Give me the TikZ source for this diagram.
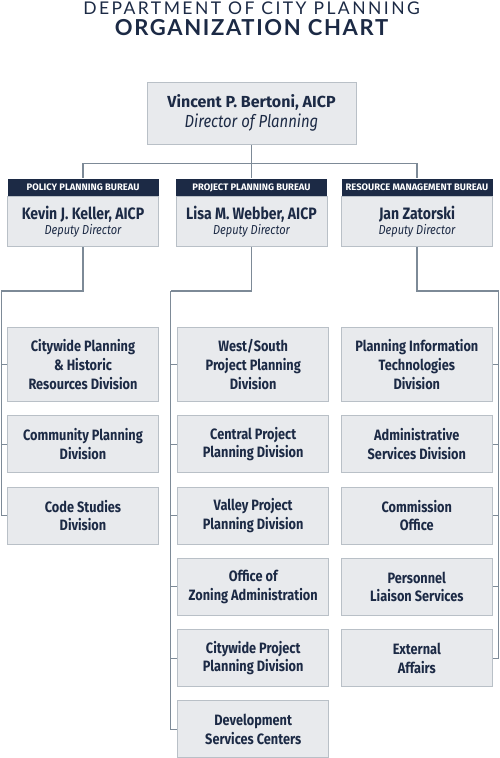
\documentclass[tikz,border=0pt]{standalone}
\usepackage{fontspec}
\setmainfont{Fira Sans}[FakeStretch=0.85]
\newfontfamily\widefont{Fira Sans}
\newfontfamily\titlefont{Lato}[LetterSpace=14]
\newfontfamily\headfont{Lato}[LetterSpace=7.5]
\usetikzlibrary{positioning}
\definecolor{navy}{HTML}{1C2A45}
\definecolor{boxfill}{HTML}{E8EAED}
\definecolor{boxline}{HTML}{B9C0C7}
\definecolor{linkgray}{HTML}{7D8A97}
\tikzstyle{link} = [line width=1.2pt, draw=linkgray]
\tikzstyle{director} = [rectangle, draw=boxline, fill=boxfill, line width=1pt, minimum width=209pt, minimum height=62pt, inner sep=0pt, align=center, text=navy]
\tikzstyle{bureauhead} = [rectangle, fill=navy, minimum width=151pt, minimum height=18pt, inner sep=0pt, text=white, font=\widefont\fontsize{9.4}{11}\selectfont\bfseries]
\tikzstyle{bureau} = [rectangle, draw=boxline, fill=boxfill, line width=1pt, minimum width=151pt, minimum height=50pt, inner sep=0pt, align=center, text=navy]
\tikzstyle{division} = [rectangle, draw=boxline, fill=boxfill, line width=1pt, minimum width=151pt, minimum height=57pt, inner sep=0pt, align=center, text=navy, font=\fontsize{15}{18.7}\selectfont\bfseries]
\tikzstyle{tall} = [minimum height=74pt]
\newcommand\deputy{\\[1.5pt]{\fontsize{13}{14}\selectfont\mdseries\itshape Deputy Director}}

\begin{document}
\begin{tikzpicture}[x=1pt, y=-1pt, node distance=71.3pt]
\useasboundingbox (0,0) rectangle (500,758);
% Title
\node (title) [anchor=base, text=navy, font=\fontsize{17.5}{20}\selectfont\titlefont] at (251.5,14) {DEPARTMENT OF CITY PLANNING};
\node (subtitle) [anchor=base, text=navy, font=\fontsize{22}{24}\selectfont\headfont\bfseries] at (251.5,35) {ORGANIZATION CHART};

% Placement of nodes
\node (dir) [director] at (251.5,113.3) {{\widefont\fontsize{16}{19}\selectfont\bfseries Vincent P. Bertoni, AICP}\\[2.5pt]{\fontsize{17.5}{19}\selectfont\itshape Director of Planning}};

\node (policyHead) [bureauhead] at (83,187.5) {POLICY PLANNING BUREAU};
\node (policy) [bureau, below of=policyHead, node distance=34pt] {{\fontsize{16.5}{17}\selectfont\bfseries Kevin J. Keller, AICP}\deputy};
\node (projectHead) [bureauhead] at (251.5,187.5) {PROJECT PLANNING BUREAU};
\node (project) [bureau, below of=projectHead, node distance=34pt] {{\fontsize{16.5}{17}\selectfont\bfseries Lisa M. Webber, AICP}\deputy};
\node (resourceHead) [bureauhead] at (417,187.5) {RESOURCE MANAGEMENT BUREAU};
\node (resource) [bureau, below of=resourceHead, node distance=34pt] {{\fontsize{16.5}{17}\selectfont\bfseries Jan Zatorski}\deputy};

% Policy planning divisions
\node (citywide) [division, tall] at (83,364.5) {Citywide Planning\\\& Historic\\Resources Division};
\node (community) [division, below of=citywide, yshift=-8.4pt] {Community Planning\\Division};
\node (codeStudies) [division, below of=community] {Code Studies\\Division};

% Project planning divisions
\node (westSouth) [division, tall] at (253.2,364.5) {West/South\\Project Planning\\Division};
\node (central) [division, below of=westSouth, yshift=-8.4pt] {Central Project\\Planning Division};
\node (valley) [division, below of=central] {Valley Project\\Planning Division};
\node (zoning) [division, below of=valley] {Office of\\Zoning Administration};
\node (citywideProj) [division, below of=zoning] {Citywide Project\\Planning Division};
\node (devServices) [division, below of=citywideProj] {Development\\Services Centers};

% Resource management divisions
\node (planIT) [division, tall] at (416.8,364.5) {Planning Information\\Technologies\\Division};
\node (admin) [division, below of=planIT, yshift=-8.4pt] {Administrative\\Services Division};
\node (commission) [division, below of=admin] {Commission\\Office};
\node (personnel) [division, below of=commission] {Personnel\\Liaison Services};
\node (external) [division, below of=personnel] {External\\Affairs};

% Bus points
\coordinate (dirBus) at (251.5,163.3);
\coordinate (policyBus) at (1.2,291);
\coordinate (projectBus) at (170.7,291);
\coordinate (resourceBus) at (498.8,291);

% Placement of edges
\draw [link] (dir) -- (dirBus);
\draw [link] (dirBus) -| (policyHead);
\draw [link] (dirBus) -- (projectHead);
\draw [link] (dirBus) -| (resourceHead);

\draw [link] (policy) |- (policyBus);
\draw [link] (policyBus) |- (citywide);
\draw [link] (policyBus) |- (community);
\draw [link] (policyBus) |- (codeStudies);

\draw [link] (project) |- (projectBus);
\draw [link] (projectBus) |- (westSouth);
\draw [link] (projectBus) |- (central);
\draw [link] (projectBus) |- (valley);
\draw [link] (projectBus) |- (zoning);
\draw [link] (projectBus) |- (citywideProj);
\draw [link] (projectBus) |- (devServices);

\draw [link] (resource) |- (resourceBus);
\draw [link] (resourceBus) |- (planIT);
\draw [link] (resourceBus) |- (admin);
\draw [link] (resourceBus) |- (commission);
\draw [link] (resourceBus) |- (personnel);
\draw [link] (resourceBus) |- (external);
\end{tikzpicture}
\end{document}
